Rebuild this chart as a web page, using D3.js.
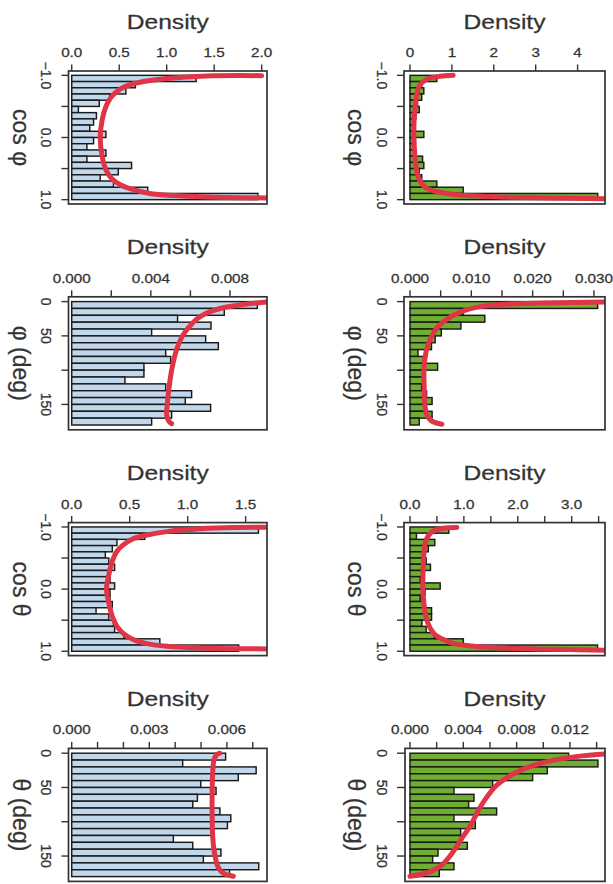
<!DOCTYPE html>
<html>
<head>
<meta charset="utf-8">
<script src="https://cdn.jsdelivr.net/npm/d3@7"></script>
<style>
  body { margin: 0; background: #fff; }
  svg text { font-family: "Liberation Sans", Arial, Helvetica, sans-serif; fill: #333; stroke: #333; stroke-width: 0.25; }
</style>
</head>
<body>
<svg id="chart" width="613" height="884"></svg>
<script>
// ---------- bin edges ----------
const cosBreaks = [-1.0, -0.9, -0.8, -0.7, -0.6, -0.5, -0.4, -0.3, -0.2, -0.1, 0.0,
  0.1, 0.2, 0.3, 0.4, 0.5, 0.6, 0.7, 0.8, 0.9, 1.0];
const degBreaks = [0, 10, 20, 30, 40, 50, 60, 70, 80, 90, 100, 110, 120, 130, 140, 150, 160, 170, 180];

// ---------- histogram densities (one per bin, top to bottom) ----------
const cosPhiBlue = [1.31, 0.67, 0.57, 0.40, 0.29, 0.07, 0.26, 0.23, 0.19, 0.36,
  0.23, 0.16, 0.36, 0.16, 0.63, 0.49, 0.30, 0.44, 0.80, 1.96];
const cosPhiGreen = [0.64, 0.28, 0.33, 0.28, 0.18, 0.22, 0.14, 0.12, 0.10, 0.33,
  0.12, 0.10, 0.14, 0.30, 0.33, 0.22, 0.28, 0.64, 1.27, 4.48];
const phiBlue = [0.00938, 0.00771, 0.00535, 0.00704, 0.00404, 0.00677, 0.00741, 0.00475, 0.0050,
  0.00365, 0.00365, 0.00269, 0.00475, 0.00606, 0.00574, 0.00702, 0.00505, 0.00404];
const phiGreen = [0.0306, 0.0087, 0.0122, 0.0083, 0.0051, 0.0041, 0.0035, 0.0013, 0.0026,
  0.0045, 0.0023, 0.0022, 0.0019, 0.0027, 0.0036, 0.0024, 0.0036, 0.0015];
const cosThetaBlue = [1.61, 0.63, 0.39, 0.35, 0.29, 0.32, 0.37, 0.33, 0.33, 0.37,
  0.33, 0.33, 0.35, 0.21, 0.32, 0.36, 0.37, 0.45, 0.76, 1.44];
const cosThetaGreen = [0.72, 0.12, 0.46, 0.34, 0.25, 0.30, 0.38, 0.26, 0.19, 0.56,
  0.28, 0.19, 0.28, 0.40, 0.40, 0.22, 0.30, 0.45, 0.99, 3.48];
const thetaBlue = [0.00595, 0.00429, 0.00713, 0.00644, 0.00499, 0.00558, 0.00486, 0.00468, 0.00573,
  0.00615, 0.00602, 0.0055, 0.00393, 0.00468, 0.00577, 0.00509, 0.00723, 0.0061];
const thetaGreen = [0.0119, 0.0141, 0.0103, 0.0092, 0.0062, 0.0033, 0.0048, 0.0044, 0.0065,
  0.0033, 0.0049, 0.0038, 0.0038, 0.0043, 0.0021, 0.0017, 0.0033, 0.0022];

// ---------- fitted density curves: [position, density] ----------
const cosPhiBlueFit = [[-0.995, 2.0], [-0.99, 1.42], [-0.95, 1.0], [-0.91, 0.79], [-0.865, 0.65],
  [-0.78, 0.51], [-0.66, 0.42], [-0.5, 0.36], [-0.28, 0.32], [0, 0.30], [0.3, 0.32], [0.52, 0.36],
  [0.66, 0.42], [0.76, 0.51], [0.84, 0.65], [0.9, 0.82], [0.935, 1.07], [0.957, 1.42], [0.975, 2.1]];
const cosPhiGreenFit = [[-1.0, 1.03], [-0.984, 0.72], [-0.95, 0.44], [-0.88, 0.28], [-0.79, 0.2],
  [-0.58, 0.14], [-0.31, 0.10], [0, 0.095], [0.33, 0.12], [0.54, 0.16], [0.70, 0.24], [0.80, 0.36],
  [0.86, 0.56], [0.90, 0.87], [0.935, 1.35], [0.957, 2.15], [0.973, 3.34], [0.984, 4.7]];
const phiBlueFit = [[0.5, 0.00985], [2.5, 0.0092], [5, 0.0085], [10, 0.0075], [17, 0.0068],
  [26, 0.0063], [38, 0.0059], [50, 0.0056], [70, 0.0053], [100, 0.00505], [130, 0.0049],
  [150, 0.00483], [165, 0.0048], [174, 0.0049], [178, 0.00505]];
const phiGreenFit = [[0.3, 0.0325], [2, 0.022], [4, 0.015], [7, 0.0117], [14.5, 0.0084], [24, 0.0063],
  [36, 0.0046], [51, 0.0035], [70, 0.0027], [94, 0.0023], [123, 0.0023], [147, 0.0024],
  [164, 0.0027], [174, 0.0035], [179, 0.0052]];
const cosThetaBlueFit = [[-0.995, 1.75], [-0.99, 1.40], [-0.97, 1.11], [-0.925, 0.82], [-0.87, 0.65],
  [-0.81, 0.53], [-0.72, 0.45], [-0.61, 0.39], [-0.45, 0.35], [-0.23, 0.32], [0, 0.30], [0.22, 0.32],
  [0.44, 0.35], [0.6, 0.39], [0.72, 0.45], [0.81, 0.53], [0.877, 0.65], [0.92, 0.82], [0.946, 1.11],
  [0.965, 1.75]];
const cosThetaGreenFit = [[-0.99, 0.87], [-0.98, 0.62], [-0.946, 0.46], [-0.89, 0.37], [-0.81, 0.31],
  [-0.68, 0.27], [-0.46, 0.25], [0, 0.24], [0.24, 0.26], [0.46, 0.30], [0.62, 0.37], [0.73, 0.46],
  [0.80, 0.59], [0.865, 0.77], [0.908, 1.05], [0.94, 1.55], [0.962, 2.29], [0.984, 3.7]];
const thetaBlueFit = [[0, 0.00573], [2.4, 0.0056], [9.7, 0.0055], [29, 0.00545], [58, 0.00543],
  [92, 0.00543], [121, 0.00545], [141, 0.0055], [155, 0.00557], [167, 0.00567], [175, 0.00586],
  [179.6, 0.00625]];
const thetaGreenFit = [[1, 0.0146], [3.9, 0.0129], [9.7, 0.0109], [17, 0.0094], [26.7, 0.0081],
  [37.9, 0.0071], [48.5, 0.0064], [63, 0.0058], [77.7, 0.0053], [92, 0.0049], [107, 0.0045],
  [121, 0.0040], [136, 0.0035], [150, 0.0030], [163, 0.0024], [172, 0.0016], [177, 0.0008],
  [179.6, 0.0]];

// ---------- axis ticks ----------
const cosTicks = [-1, -0.5, 0, 0.5, 1];
const cosTickLabels = ["\u22121.0", "", "0.0", "", "1.0"];
const degTicks = [0, 50, 100, 150];
const degTickLabels = ["0", "50", "", "150"];

const cosPhiBlueTicks = [0, 0.5, 1, 1.5, 2];
const cosPhiBlueLabels = ["0.0", "0.5", "1.0", "1.5", "2.0"];
const cosPhiGreenTicks = [0, 1, 2, 3, 4];
const cosPhiGreenLabels = ["0", "1", "2", "3", "4"];
const phiBlueTicks = [0, 0.002, 0.004, 0.006, 0.008];
const phiBlueLabels = ["0.000", "", "0.004", "", "0.008"];
const phiGreenTicks = [0, 0.005, 0.010, 0.015, 0.020, 0.025, 0.030];
const phiGreenLabels = ["0.000", "", "0.010", "", "0.020", "", "0.030"];
const cosThetaBlueTicks = [0, 0.5, 1, 1.5];
const cosThetaBlueLabels = ["0.0", "0.5", "1.0", "1.5"];
const cosThetaGreenTicks = [0, 0.5, 1, 1.5, 2, 2.5, 3, 3.5];
const cosThetaGreenLabels = ["0.0", "", "1.0", "", "2.0", "", "3.0", ""];
const thetaBlueTicks = [0, 0.001, 0.002, 0.003, 0.004, 0.005, 0.006, 0.007];
const thetaBlueLabels = ["0.000", "", "", "0.003", "", "", "0.006", ""];
const thetaGreenTicks = [0, 0.002, 0.004, 0.006, 0.008, 0.010, 0.012, 0.014];
const thetaGreenLabels = ["0.000", "", "0.004", "", "0.008", "", "0.012", ""];

// density axis limits (value at left / right box edge)
const xLimits = [[-0.034, 2.056], [-0.143, 4.654], [-0.000162, 0.00987], [-0.00098, 0.0318],
  [-0.0276, 1.684], [-0.111, 3.618], [-0.000124, 0.00755], [-0.000375, 0.01463]];
const cosLimits = [-1.07, 1.07];
const degLimits = [-7, 187];

// ---------- panel table ----------
const panels = [
  { bars: cosPhiBlue, fit: cosPhiBlueFit, breaks: cosBreaks, kind: "cos", label: "cos \u03c6", green: false, ticks: cosPhiBlueTicks, labels: cosPhiBlueLabels },
  { bars: cosPhiGreen, fit: cosPhiGreenFit, breaks: cosBreaks, kind: "cos", label: "cos \u03c6", green: true, ticks: cosPhiGreenTicks, labels: cosPhiGreenLabels },
  { bars: phiBlue, fit: phiBlueFit, breaks: degBreaks, kind: "deg", label: "\u03c6 (deg)", green: false, ticks: phiBlueTicks, labels: phiBlueLabels },
  { bars: phiGreen, fit: phiGreenFit, breaks: degBreaks, kind: "deg", label: "\u03c6 (deg)", green: true, ticks: phiGreenTicks, labels: phiGreenLabels },
  { bars: cosThetaBlue, fit: cosThetaBlueFit, breaks: cosBreaks, kind: "cos", label: "cos \u03b8", green: false, ticks: cosThetaBlueTicks, labels: cosThetaBlueLabels },
  { bars: cosThetaGreen, fit: cosThetaGreenFit, breaks: cosBreaks, kind: "cos", label: "cos \u03b8", green: true, ticks: cosThetaGreenTicks, labels: cosThetaGreenLabels },
  { bars: thetaBlue, fit: thetaBlueFit, breaks: degBreaks, kind: "deg", label: "\u03b8 (deg)", green: false, ticks: thetaBlueTicks, labels: thetaBlueLabels },
  { bars: thetaGreen, fit: thetaGreenFit, breaks: degBreaks, kind: "deg", label: "\u03b8 (deg)", green: true, ticks: thetaGreenTicks, labels: thetaGreenLabels },
];

// ---------- layout ----------
const colLeft = [68.5, 404];
const colRight = [267, 605];
const rowTop = [71, 296.8, 522.6, 748.4];
const boxH = 133;
const blueFill = "#c0d7ec";
const greenFill = "#6fae30";
const fitColor = "#df3546";

const svg = d3.select("#chart");
const defs = svg.append("defs");

panels.forEach((p, i) => {
  const col = i % 2, row = Math.floor(i / 2);
  const L = (i === 7) ? 405 : colLeft[col];
  const R = colRight[col];
  const T = rowTop[row], B = T + boxH;

  const x = d3.scaleLinear().domain(xLimits[i]).range([L, R]);
  const y = d3.scaleLinear().domain(p.kind === "cos" ? cosLimits : degLimits).range([T, B]);

  const g = svg.append("g");

  defs.append("clipPath").attr("id", "clip" + i)
    .append("rect").attr("x", L).attr("y", T).attr("width", R - L).attr("height", B - T);

  // bars
  g.selectAll("rect.bar")
    .data(p.bars)
    .join("rect")
    .attr("class", "bar")
    .attr("x", x(0))
    .attr("y", (d, k) => y(p.breaks[k]))
    .attr("width", d => x(d) - x(0))
    .attr("height", (d, k) => y(p.breaks[k + 1]) - y(p.breaks[k]))
    .attr("fill", p.green ? greenFill : blueFill)
    .attr("stroke", "#1a1a1a")
    .attr("stroke-width", 1.45);

  // fitted curve
  const line = d3.line()
    .x(d => x(d[1]))
    .y(d => y(d[0]))
    .curve(d3.curveCatmullRom.alpha(0.5));
  g.append("path")
    .attr("d", line(p.fit))
    .attr("clip-path", `url(#clip${i})`)
    .attr("fill", "none")
    .attr("stroke", fitColor)
    .attr("stroke-width", 5)
    .attr("stroke-linecap", "round")
    .attr("stroke-linejoin", "round");

  // box
  g.append("rect")
    .attr("x", L).attr("y", T).attr("width", R - L).attr("height", B - T)
    .attr("fill", "none").attr("stroke", "#333").attr("stroke-width", 1.7);

  // top density axis
  const ax = g.append("g");
  ax.selectAll("line")
    .data(p.ticks)
    .join("line")
    .attr("x1", d => x(d)).attr("x2", d => x(d))
    .attr("y1", T).attr("y2", T - 6.5)
    .attr("stroke", "#333").attr("stroke-width", 1.4);
  ax.selectAll("text")
    .data(p.ticks)
    .join("text")
    .attr("transform", d => `translate(${x(d)},${T - 14}) scale(1.27,1)`)
    .attr("text-anchor", "middle")
    .attr("font-size", 12)
    .text((d, k) => p.labels[k]);

  g.append("text")
    .attr("transform", `translate(${(colLeft[col] + R) / 2},${T - 42.5}) scale(1.23,1)`)
    .attr("text-anchor", "middle")
    .attr("font-size", 20)
    .text("Density");

  // left position axis
  const yt = p.kind === "cos" ? cosTicks : degTicks;
  const yl = p.kind === "cos" ? cosTickLabels : degTickLabels;
  const axL = colLeft[col];
  const ay = g.append("g");
  ay.selectAll("line")
    .data(yt)
    .join("line")
    .attr("x1", axL - 7).attr("x2", L)
    .attr("y1", d => y(d)).attr("y2", d => y(d))
    .attr("stroke", "#333").attr("stroke-width", 1.4);
  ay.selectAll("text")
    .data(yt)
    .join("text")
    .attr("transform", d => `translate(${axL - 27.5},${y(d)}) rotate(90)`)
    .attr("text-anchor", "middle")
    .attr("font-size", 14)
    .text((d, k) => yl[k]);

  g.append("text")
    .attr("transform", `translate(${axL - 56},${(T + B) / 2}) rotate(90)`)
    .attr("text-anchor", "middle")
    .attr("font-size", 23)
    .text(p.label);
});
</script>
</body>
</html>
